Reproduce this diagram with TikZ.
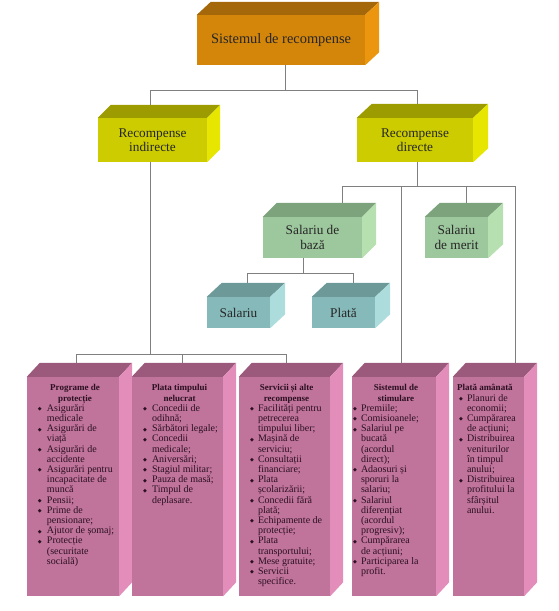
\documentclass[tikz,border=0pt]{standalone}
\usepackage{fontspec}
\setmainfont{Liberation Serif}
\newfontfamily\symf{DejaVu Sans}
\usetikzlibrary{calc,backgrounds}
\definecolor{orF}{HTML}{D4860B}\definecolor{orT}{HTML}{A4680A}\definecolor{orS}{HTML}{EC950F}
\definecolor{yeF}{HTML}{CCCC00}\definecolor{yeT}{HTML}{9C9C00}\definecolor{yeS}{HTML}{E6E600}
\definecolor{grF}{HTML}{9DC79D}\definecolor{grT}{HTML}{7DA37D}\definecolor{grS}{HTML}{B6E0B0}
\definecolor{teF}{HTML}{86B9B9}\definecolor{teT}{HTML}{6D9999}\definecolor{teS}{HTML}{ADDCDC}
\definecolor{piF}{HTML}{C0739B}\definecolor{piT}{HTML}{9B5A7C}\definecolor{piS}{HTML}{E38DBB}
\definecolor{lnC}{HTML}{7F7F7F}
\definecolor{txtC}{HTML}{2A1020}
\newcommand\faces[5]{%
  \fill[#4] (#1.north west) -- ++(#2,-#3) -- ($(#1.north east)+(#2,-#3)$) -- (#1.north east) -- cycle;
  \fill[#5] (#1.north east) -- ++(#2,-#3) -- ($(#1.south east)+(#2,-#3)$) -- (#1.south east) -- cycle;}
\newlength\bulo\newlength\bulw
\def\nlbrk{\hfil\break}
\newcommand\bul{{\symf\fontsize{5}{5}\selectfont\raisebox{0.6pt}{◆}}}
\newcommand\bi[1]{\par\hangindent=\bulw\hangafter=1\noindent\makebox[\bulw][l]{\hspace*{\bulo}\bul}{\let\\\nlbrk #1}\par}
\newcommand\hd[1]{{\centering\bfseries\fontsize{9}{10.2}\selectfont #1\par}}
\begin{document}
\begin{tikzpicture}[x=1pt,y=-1pt,
  lbl/.style={rectangle,inner sep=0pt,align=center,text=black!85,font=\fontsize{13.3}{14.5}\selectfont},
  ln/.style={draw=lnC,line width=1pt},
  pk/.style={rectangle,inner sep=0pt,fill=piF,minimum height=219pt},
  lst/.style={inner sep=0pt,align=flush left,text=txtC,font=\fontsize{10}{10.2}\selectfont,anchor=base west}]
\useasboundingbox (0,0) rectangle (559,611);
% boxes
\node[lbl,fill=orF,minimum width=168pt,minimum height=50pt,font=\fontsize{14.4}{16}\selectfont] (top) at (281,40) {Sistemul de recompense};
\faces{top}{14}{13}{orT}{orS}
\node[lbl,fill=yeF,minimum width=109pt,minimum height=44pt] (ind) at (152.5,140) {Recompense\\indirecte};
\faces{ind}{13}{13}{yeT}{yeS}
\node[lbl,fill=yeF,minimum width=116pt,minimum height=44pt] (dir) at (415,140) {Recompense\\directe};
\faces{dir}{15}{14}{yeT}{yeS}
\node[lbl,fill=grF,minimum width=99pt,minimum height=41pt] (baza) at (312.5,237.5) {Salariu de\\bază};
\faces{baza}{14}{14}{grT}{grS}
\node[lbl,fill=grF,minimum width=63pt,minimum height=41pt] (merit) at (456.5,237.5) {Salariu\\de merit};
\faces{merit}{15}{14}{grT}{grS}
\node[lbl,fill=teF,minimum width=63pt,minimum height=31pt] (sal) at (238.5,312.5) {Salariu};
\faces{sal}{15}{14}{teT}{teS}
\node[lbl,fill=teF,minimum width=63pt,minimum height=31pt] (plata) at (343.5,312.5) {Plată};
\faces{plata}{15}{14}{teT}{teS}
\node[pk,minimum width=92pt] (b1) at (73,486.5) {};
\faces{b1}{13}{14}{piT}{piS}
\node[pk,minimum width=91pt] (b2) at (177.5,486.5) {};
\faces{b2}{13}{14}{piT}{piS}
\node[pk,minimum width=91pt] (b3) at (284.5,486.5) {};
\faces{b3}{13}{14}{piT}{piS}
\node[pk,minimum width=84pt] (b4) at (394,486.5) {};
\faces{b4}{13}{14}{piT}{piS}
\node[pk,minimum width=71pt] (b5) at (488.5,486.5) {};
\faces{b5}{13}{14}{piT}{piS}
% texts
\node[lst,text width=96pt] (b1t) at ($(b1.north west)+(0,14)$) {\setlength\bulo{11pt}\setlength\bulw{20pt}%
\hd{Programe de\\protecție}
\bi{Asigurări\\medicale}
\bi{Asigurări de\\viață}
\bi{Asigurări de\\accidente}
\bi{Asigurări pentru\\incapacitate de\\muncă}
\bi{Pensii;}
\bi{Prime de\\pensionare;}
\bi{Ajutor de șomaj;}
\bi{Protecție\\(securitate\\socială)}};
\node[lst,text width=95pt] (b2t) at ($(b2.north west)+(0,14)$) {\setlength\bulo{11pt}\setlength\bulw{20pt}%
\hd{Plata timpului\\nelucrat}
\bi{Concedii de\\odihnă;}
\bi{Sărbători legale;}
\bi{Concedii\\medicale;}
\bi{Aniversări;}
\bi{Stagiul militar;}
\bi{Pauza de masă;}
\bi{Timpul de\\deplasare.}};
\node[lst,text width=95pt] (b3t) at ($(b3.north west)+(0,14)$) {\setlength\bulo{11pt}\setlength\bulw{19pt}%
\hd{Servicii și alte\\recompense}
\bi{Facilități pentru\\petrecerea\\timpului liber;}
\bi{Mașină de\\serviciu;}
\bi{Consultații\\financiare;}
\bi{Plata\\școlarizării;}
\bi{Concedii fără\\plată;}
\bi{Echipamente de\\protecție;}
\bi{Plata\\transportului;}
\bi{Mese gratuite;}
\bi{Servicii\\specifice.}};
\node[lst,text width=88pt] (b4t) at ($(b4.north west)+(0,14)$) {\setlength\bulo{1pt}\setlength\bulw{9pt}%
\hd{Sistemul de\\stimulare}
\bi{Premiile;}
\bi{Comisioanele;}
\bi{Salariul pe\\bucată\\(acordul\\direct);}
\bi{Adaosuri și\\sporuri la\\salariu;}
\bi{Salariul\\diferențiat\\(acordul\\progresiv);}
\bi{Cumpărarea\\de acțiuni;}
\bi{Participarea la\\profit.}};
\node[lst,text width=76pt] (b5t) at ($(b5.north west)+(0,14)$) {\setlength\bulo{6pt}\setlength\bulw{14pt}%
{\bfseries\fontsize{9}{10.2}\selectfont\hspace*{4pt}Plată amânată\par}
\bi{Planuri de\\economii;}
\bi{Cumpărarea\\de acțiuni;}
\bi{Distribuirea\\veniturilor\\în timpul\\anului;}
\bi{Distribuirea\\profitului la\\sfârșitul\\anului.}};
% connectors
\begin{pgfonlayer}{background}
\draw[ln] ([xshift=4pt]top.south) -- ++(0,25) coordinate (j0);
\draw[ln] ([xshift=-2.5pt]ind.north) |- (j0) -| ([xshift=2pt]dir.north);
\draw[ln] ([xshift=-2.5pt]ind.south) -- ++(0,192) coordinate (j1);
\draw[ln] ([xshift=3pt]b1.north) |- (j1) -| ([xshift=1.5pt]b3.north);
\draw[ln] ([xshift=4.5pt]b2.north) -- ([xshift=4.5pt]b2.north |- j1);
\draw[ln] ([xshift=2pt]dir.south) -- ++(0,24) coordinate (j2);
\draw[ln] ([xshift=29.5pt]baza.north) |- (j2) -| ([xshift=26.5pt]b5.north);
\draw[ln] ([xshift=7pt]b4.north) -- ([xshift=7pt]b4.north |- j2);
\draw[ln] ([xshift=9.5pt]merit.north) -- ([xshift=9.5pt]merit.north |- j2);
\draw[ln] ([xshift=-9.5pt]baza.south) -- ++(0,15) coordinate (j3);
\draw[ln] ([xshift=8.5pt]sal.north) |- (j3) -| ([xshift=9.5pt]plata.north);
\end{pgfonlayer}
\end{tikzpicture}
\end{document}
